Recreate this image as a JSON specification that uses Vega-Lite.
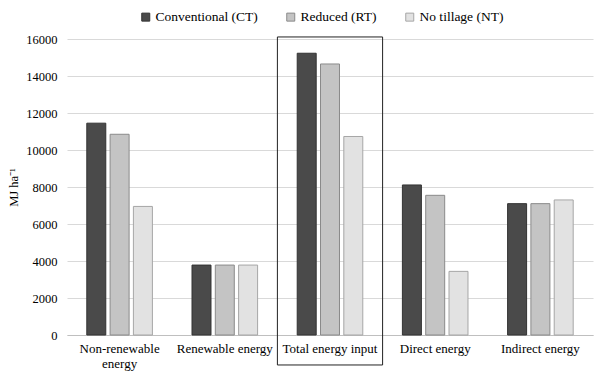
{
  "$schema": "https://vega.github.io/schema/vega-lite/v6.json",
  "width": 526,
  "height": 296,
  "autosize": "none",
  "padding": {"left": 67, "top": 39, "right": 7, "bottom": 55},
  "background": "white",
  "datasets": {
    "bars": [
      {"category": "Non-renewable energy", "system": "Conventional (CT)", "value": 11450},
      {"category": "Non-renewable energy", "system": "Reduced (RT)", "value": 10850},
      {"category": "Non-renewable energy", "system": "No tillage (NT)", "value": 6950},
      {"category": "Renewable energy", "system": "Conventional (CT)", "value": 3780},
      {"category": "Renewable energy", "system": "Reduced (RT)", "value": 3780},
      {"category": "Renewable energy", "system": "No tillage (NT)", "value": 3780},
      {"category": "Total energy input", "system": "Conventional (CT)", "value": 15230},
      {"category": "Total energy input", "system": "Reduced (RT)", "value": 14650},
      {"category": "Total energy input", "system": "No tillage (NT)", "value": 10730},
      {"category": "Direct energy", "system": "Conventional (CT)", "value": 8110},
      {"category": "Direct energy", "system": "Reduced (RT)", "value": 7550},
      {"category": "Direct energy", "system": "No tillage (NT)", "value": 3440},
      {"category": "Indirect energy", "system": "Conventional (CT)", "value": 7100},
      {"category": "Indirect energy", "system": "Reduced (RT)", "value": 7100},
      {"category": "Indirect energy", "system": "No tillage (NT)", "value": 7300}
    ],
    "box": [
      {"category": "Total energy input", "top": 16110, "bottom": -1620}
    ]
  },
  "config": {
    "font": "Liberation Serif",
    "view": {"stroke": null},
    "axis": {"labelFont": "Liberation Serif", "titleFont": "Liberation Serif", "labelColor": "#000", "titleColor": "#000"},
    "axisY": {
      "values": [0, 2000, 4000, 6000, 8000, 10000, 12000, 14000, 16000],
      "labelOverlap": false, "tickCount": 8,
      "format": "d", "labelFontSize": 12.5, "labelPadding": 10, "ticks": false, "domain": false,
      "gridColor": "#d9d9d9", "titleFontSize": 12.5, "titleFontWeight": "normal", "titlePadding": 5
    },
    "legend": {"labelFont": "Liberation Serif"}
  },
  "layer": [
    {
      "data": {"name": "bars"},
      "mark": {"type": "bar", "strokeWidth": 1},
      "encoding": {
        "x": {
          "field": "category", "type": "nominal", "sort": null,
          "scale": {"paddingInner": 0, "paddingOuter": 0},
          "axis": {
            "title": null, "labelAngle": 0, "ticks": false, "labelFontSize": 13,
            "labelPadding": 7, "domainColor": "#bfbfbf",
            "labelExpr": "datum.value == 'Non-renewable energy' ? ['Non-renewable', 'energy'] : datum.value"
          }
        },
        "xOffset": {
          "field": "system", "type": "nominal", "sort": null,
          "scale": {"paddingInner": 0.185, "paddingOuter": 0.85}
        },
        "y": {
          "field": "value", "type": "quantitative",
          "scale": {"domain": [0, 16000], "nice": false},
          "axis": {"title": "MJ ha⁻¹"}
        },
        "color": {
          "field": "system", "type": "nominal", "sort": null,
          "scale": {
            "domain": ["Conventional (CT)", "Reduced (RT)", "No tillage (NT)"],
            "range": ["#4a4a4a", "#c4c4c4", "#e2e2e2"]
          },
          "legend": {
            "title": null, "orient": "none", "direction": "horizontal",
            "legendX": 72, "legendY": -29,
            "labelFontSize": 13.5, "labelColor": "#000",
            "symbolType": "square", "symbolSize": 64, "symbolOffset": 0,
            "labelOffset": 3, "columnPadding": 26,
            "symbolStrokeColor": "#808080", "symbolStrokeWidth": 1
          }
        },
        "stroke": {
          "field": "system", "type": "nominal", "sort": null,
          "scale": {
            "domain": ["Conventional (CT)", "Reduced (RT)", "No tillage (NT)"],
            "range": ["#333333", "#8a8a8a", "#a6a6a6"]
          },
          "legend": null
        }
      }
    },
    {
      "data": {"name": "box"},
      "mark": {"type": "rect", "fill": null, "stroke": "#222", "strokeWidth": 1},
      "encoding": {
        "x": {"field": "category", "type": "nominal", "sort": null},
        "y": {"field": "top", "type": "quantitative", "axis": {"title": "MJ ha⁻¹"}},
        "y2": {"field": "bottom"}
      }
    }
  ]
}
